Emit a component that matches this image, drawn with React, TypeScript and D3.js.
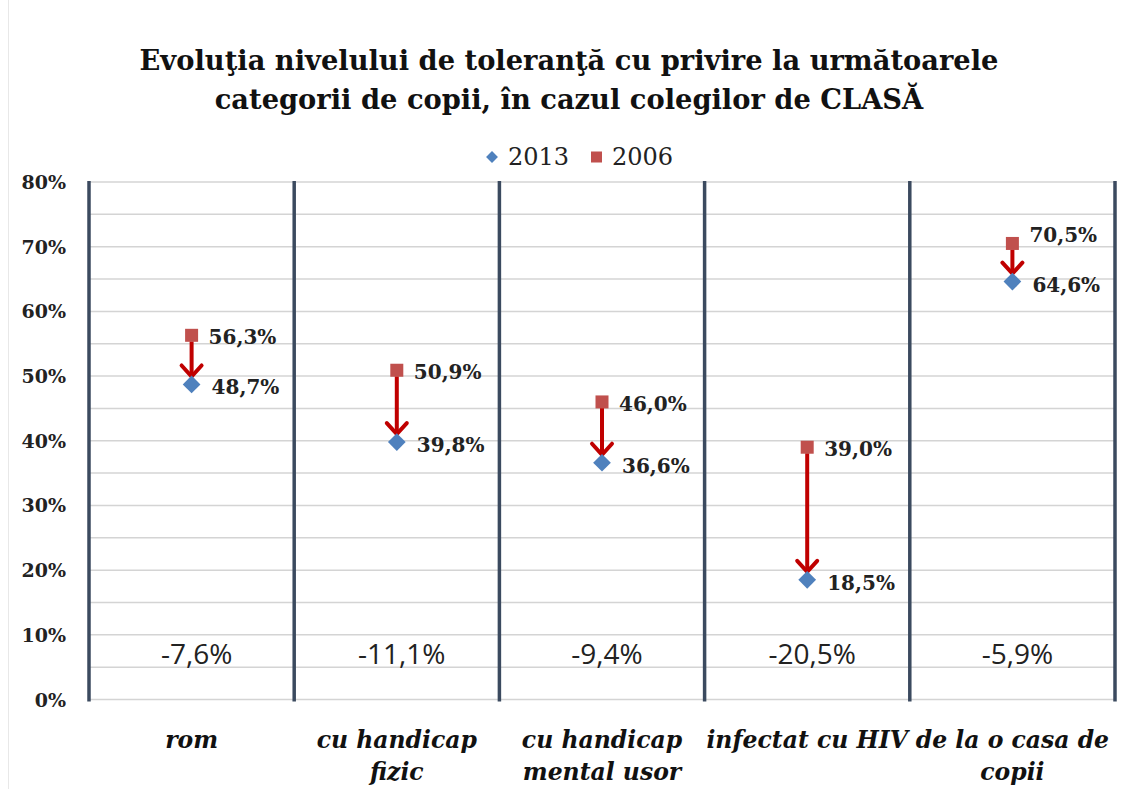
import React from "react";
import * as d3 from "d3";

const categories = ["rom", "cu handicap\nfizic", "cu handicap\nmental usor", "infectat cu HIV", "de la o casa de\ncopii"];
const values2013 = [48.7, 39.8, 36.6, 18.5, 64.6];
const values2006 = [56.3, 50.9, 46.0, 39.0, 70.5];
const yTicks = [0, 10, 20, 30, 40, 50, 60, 70, 80];
const legendItems = ["2013", "2006"];
const titleLines = [
  "Evoluţia nivelului de toleranţă cu privire la următoarele",
  "categorii de copii, în cazul colegilor de CLASĂ",
];

const W = 1126;
const H = 789;
const BLUE = "#4f81bd";
const RED = "#c0504d";
const ARROW = "#c00000";
const DIV = "#3b4a5f";
const GRID = "#d4d4d4";
const SERIF = "'DejaVu Serif', serif";
const SANS = "'Open Sans', sans-serif";

const fmt = (v: number) => v.toFixed(1).replace(".", ",") + "%";

export default function App() {
  const x = d3.scaleBand<number>().domain(d3.range(categories.length)).range([89, 1115]).padding(0);
  const y = d3.scaleLinear().domain([0, 80]).range([699.5, 182]);
  const gridVals = d3.range(0, 80.01, 5);
  const edges = d3.range(categories.length + 1).map((i) => 89 + i * x.bandwidth());
  const diamond = d3.symbol().type(d3.symbolDiamond2).size(200)() as string;
  const legendDiamond = d3.symbol().type(d3.symbolDiamond2).size(90)() as string;

  return (
    <svg width={W} height={H} style={{ position: "absolute", left: 0, top: 0, background: "#fff" }}>
      <line x1={8.5} x2={8.5} y1={0} y2={H} stroke="#e8e8e8" />
      {titleLines.map((t, i) => (
        <text key={i} x={569} y={70 + i * 39} textAnchor="middle" fontFamily={SERIF} fontWeight="bold" fontSize={27.3} fill="#111">
          {t}
        </text>
      ))}
      {/* legend */}
      <g>
        <path d={legendDiamond} transform="translate(492,157)" fill={BLUE} />
        <text x={508} y={165} fontFamily={SERIF} fontSize={24} fill="#222">{legendItems[0]}</text>
        <rect x={591} y={151.5} width={11} height={11} fill={RED} />
        <text x={612} y={165} fontFamily={SERIF} fontSize={24} fill="#222">{legendItems[1]}</text>
      </g>
      {/* gridlines */}
      {gridVals.map((v) => (
        <line key={v} x1={89} x2={1115} y1={y(v)} y2={y(v)} stroke={GRID} strokeWidth={1.5} />
      ))}
      {/* dividers */}
      {edges.map((e, i) => (
        <line key={i} x1={e} x2={e} y1={y(80) - 1} y2={y(0) + 2} stroke={DIV} strokeWidth={3.5} />
      ))}
      {/* y axis labels */}
      {yTicks.map((v) => (
        <text key={v} x={66} y={y(v) + 7} textAnchor="end" fontFamily={SERIF} fontWeight="bold" fontSize={19} fill="#222">
          {v}%
        </text>
      ))}
      {/* points and arrows */}
      {categories.map((c, i) => {
        const cx = (x(i) as number) + x.bandwidth() / 2;
        const y06 = y(values2006[i]);
        const y13 = y(values2013[i]);
        const tipY = y13 - 8;
        const shift06 = values2006[i] - values2013[i] < 7 ? -10 : 0;
        const diff = values2013[i] - values2006[i];
        return (
          <g key={i}>
            <line x1={cx} x2={cx} y1={y06 + 6} y2={tipY - 1} stroke={ARROW} strokeWidth={4} />
            <path
              d={`M${cx - 10},${tipY - 11} L${cx},${tipY} L${cx + 10},${tipY - 11}`}
              fill="none"
              stroke={ARROW}
              strokeWidth={4}
              strokeLinecap="round"
            />
            <rect x={cx - 6.5} y={y06 - 6.5} width={13} height={13} fill={RED} />
            <path d={diamond} transform={`translate(${cx},${y13})`} fill={BLUE} />
            <text x={cx + 17} y={y06 + 9 + shift06} fontFamily={SERIF} fontWeight="bold" fontSize={20} fill="#222">
              {fmt(values2006[i])}
            </text>
            <text x={cx + 20} y={y13 + 10} fontFamily={SERIF} fontWeight="bold" fontSize={20} fill="#222">
              {fmt(values2013[i])}
            </text>
            <text x={cx + 5} y={664} textAnchor="middle" fontFamily={SANS} fontSize={28} fill="#222">
              {fmt(diff)}
            </text>
            {c.split("\n").map((ln, j) => (
              <text
                key={j}
                x={cx}
                y={748 + j * 32}
                textAnchor="middle"
                fontFamily={SERIF}
                fontWeight="bold"
                fontStyle="italic"
                fontSize={23.5}
                fill="#111"
              >
                {ln}
              </text>
            ))}
          </g>
        );
      })}
    </svg>
  );
}
